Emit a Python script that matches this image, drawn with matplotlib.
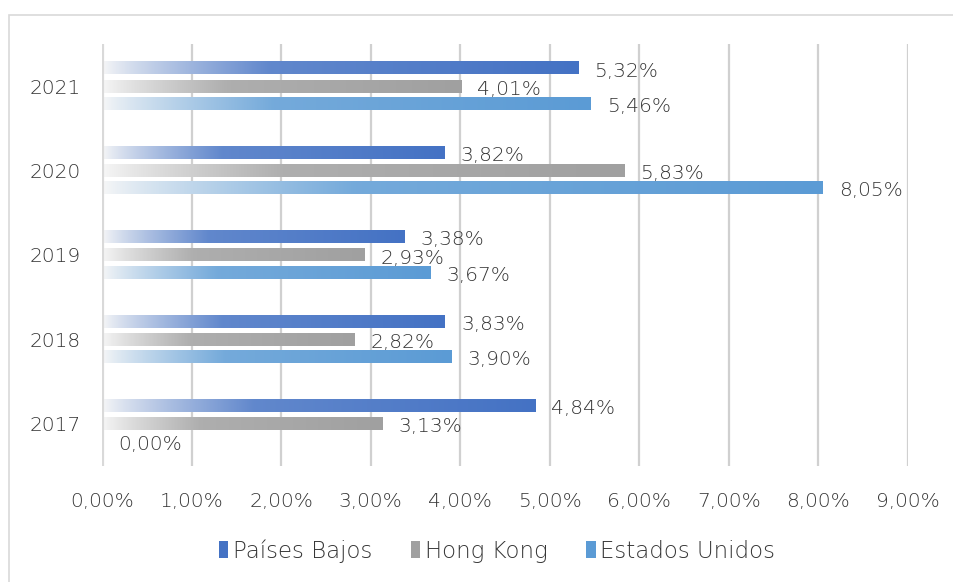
import numpy as np
import matplotlib.pyplot as plt
from matplotlib.colors import to_rgb
from matplotlib.patches import Rectangle
from matplotlib.transforms import offset_copy

years = ["2017", "2018", "2019", "2020", "2021"]
series = ["Países Bajos", "Hong Kong", "Estados Unidos"]
paises_bajos = [4.84, 3.83, 3.38, 3.82, 5.32]
hong_kong = [3.13, 2.82, 2.93, 5.83, 4.01]
estados_unidos = [0.00, 3.90, 3.67, 8.05, 5.46]
x_ticks = [0, 1, 2, 3, 4, 5, 6, 7, 8, 9]

colors = ["#4472C4", "#A0A0A0", "#5B9BD5"]
offsets = [0.215, 0.0, -0.205]
bar_h = 0.15
text_color = "#363636"
fsize = 14.5

plt.rcParams["font.family"] = ["DejaVu Sans"]
plt.rcParams["font.weight"] = "light"

fig = plt.figure(figsize=(9.54, 5.82), dpi=100)
fig.patches.append(Rectangle((9 / 954, -0.01), 1.0, 1 - 15 / 582 + 0.01,
                             transform=fig.transFigure, fill=False,
                             edgecolor="#d9d9d9", linewidth=1.2))
ax = fig.add_axes([102 / 954, 1 - 466 / 582, 806 / 954, 422 / 582])


def gradient_bar(ax, y, value, color, h):
    if value <= 0:
        return
    c = np.array(to_rgb(color))
    t = np.linspace(0, 1, 256)
    w = np.clip(t / 0.35, 0, 1) ** 0.8 * 0.75 + 0.25 * t
    w = np.clip(w, 0, 1)
    rgb = (1 - w)[:, None] * np.array([1, 1, 1]) * 0.97 + w[:, None] * c
    rgb = np.clip(rgb, 0, 1)
    ax.imshow(rgb[None, :, :], extent=[0, value, y - h / 2, y + h / 2],
              aspect="auto", interpolation="bilinear", zorder=3)


all_values = [paises_bajos, hong_kong, estados_unidos]
label_tr = offset_copy(ax.transData, fig=fig, x=16, y=-3, units="dots")
for vals, col, off in zip(all_values, colors, offsets):
    for i, v in enumerate(vals):
        y = i + off
        gradient_bar(ax, y, v, col, bar_h)
        ax.text(v, y, f"{v:.2f}%".replace(".", ","), transform=label_tr,
                ha="left", va="center", fontsize=fsize, color=text_color,
                zorder=5)

ax.set_xlim(0, 9)
ax.set_ylim(-0.5, 4.5)

for xv in x_ticks[1:]:
    ax.axvline(xv, color="#d0d0d0", linewidth=1.6, zorder=1)
ax.axvline(0, color="#d9d9d9", linewidth=3, zorder=4)

ax.set_xticks(x_ticks)
ax.set_xticklabels([f"{v:.2f}%".replace(".", ",") for v in x_ticks])
ax.set_yticks(range(len(years)))
ax.set_yticklabels(years)
ax.tick_params(axis="both", length=0, labelsize=fsize, colors=text_color)
ax.tick_params(axis="x", pad=19)
ax.tick_params(axis="y", pad=15)
for s in ax.spines.values():
    s.set_visible(False)

handles = [Rectangle((0, 0), 1, 1, facecolor=c, edgecolor="none") for c in colors]
leg = fig.legend(handles, series, loc="center", bbox_to_anchor=(497 / 954, 1 - 551 / 582),
                 ncol=3, frameon=False, fontsize=16.5, handlelength=0.4, handleheight=0.75,
                 handletextpad=0.2, columnspacing=1.7)
for t in leg.get_texts():
    t.set_color(text_color)

fig.savefig("out.png", dpi=100, facecolor="white")
